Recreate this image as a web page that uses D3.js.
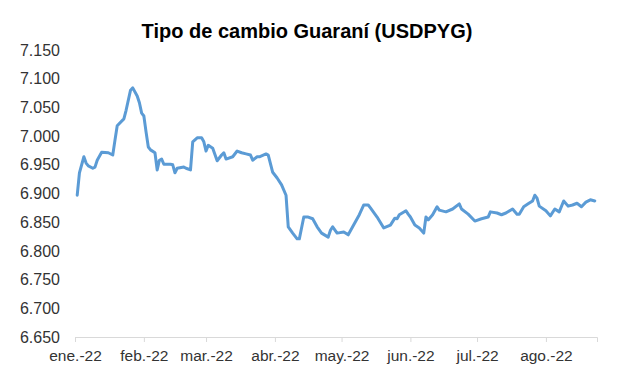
<!DOCTYPE html>
<html>
<head>
<meta charset="utf-8">
<script src="https://cdn.jsdelivr.net/npm/d3@7"></script>
<style>
  body { margin: 0; background: #fff; }
  text { font-family: "Liberation Sans", Arial, sans-serif; fill: #262626; }
</style>
</head>
<body>
<svg id="chart" width="617" height="389"></svg>
<script>
// USDPYG exchange rate, 2022
const dates = [
  '2022-01-02','2022-01-03','2022-01-05','2022-01-06','2022-01-07','2022-01-09','2022-01-10','2022-01-11',
  '2022-01-13','2022-01-16','2022-01-18','2022-01-19','2022-01-20','2022-01-23','2022-01-24','2022-01-26',
  '2022-01-27','2022-01-29','2022-01-30','2022-01-31','2022-02-01','2022-02-02','2022-02-03','2022-02-04',
  '2022-02-06','2022-02-07','2022-02-08','2022-02-09','2022-02-10','2022-02-13','2022-02-14','2022-02-15',
  '2022-02-16','2022-02-19','2022-02-20','2022-02-22','2022-02-23','2022-02-25','2022-02-27','2022-02-28',
  '2022-03-01','2022-03-02','2022-03-04','2022-03-06','2022-03-08','2022-03-09','2022-03-10','2022-03-13',
  '2022-03-15','2022-03-17','2022-03-19','2022-03-21','2022-03-22','2022-03-24','2022-03-25','2022-03-28',
  '2022-03-29','2022-03-31','2022-04-02','2022-04-04','2022-04-06','2022-04-07','2022-04-09','2022-04-11',
  '2022-04-12','2022-04-14','2022-04-16','2022-04-18','2022-04-20','2022-04-22','2022-04-25','2022-04-26',
  '2022-04-27','2022-04-29','2022-05-02','2022-05-04','2022-05-06','2022-05-09','2022-05-11','2022-05-13',
  '2022-05-14','2022-05-17','2022-05-20','2022-05-23','2022-05-25','2022-05-26','2022-05-27','2022-05-30',
  '2022-05-31','2022-06-01','2022-06-03','2022-06-05','2022-06-07','2022-06-08','2022-06-09','2022-06-11',
  '2022-06-13','2022-06-14','2022-06-17','2022-06-20','2022-06-23','2022-06-24','2022-06-27','2022-06-30',
  '2022-07-03','2022-07-06','2022-07-07','2022-07-10','2022-07-12','2022-07-14','2022-07-17','2022-07-19',
  '2022-07-20','2022-07-22','2022-07-24','2022-07-26','2022-07-27','2022-07-28','2022-07-29','2022-08-01',
  '2022-08-03','2022-08-05','2022-08-07','2022-08-09','2022-08-11','2022-08-13','2022-08-15','2022-08-17',
  '2022-08-19','2022-08-21','2022-08-23'
];
const rates = [
  6897, 6936, 6964, 6953, 6948, 6944, 6946, 6958,
  6972, 6971, 6967, 6993, 7018, 7030, 7045, 7080,
  7084, 7070, 7058, 7040, 7035, 7007, 6981, 6976,
  6971, 6941, 6958, 6960, 6951, 6951, 6950, 6936,
  6944, 6946, 6944, 6941, 6990, 6997, 6997, 6990,
  6974, 6984, 6979, 6957, 6967, 6971, 6960, 6964,
  6974, 6971, 6969, 6967, 6958, 6964, 6964, 6969,
  6967, 6937, 6927, 6915, 6897, 6842, 6831, 6821,
  6821, 6859, 6859, 6856, 6842, 6831, 6824, 6836,
  6842, 6831, 6833, 6828, 6842, 6863, 6880, 6880,
  6875, 6859, 6840, 6845, 6857, 6856, 6863, 6870,
  6864, 6859, 6845, 6840, 6831, 6859, 6854, 6863,
  6877, 6871, 6868, 6873, 6882, 6873, 6864, 6852,
  6856, 6859, 6868, 6866, 6863, 6866, 6873, 6864,
  6864, 6877, 6882, 6887, 6897, 6892, 6878, 6870,
  6861, 6873, 6868, 6887, 6878, 6880, 6883, 6877,
  6885, 6889, 6887
];
const monthTicks = ['2022-01-01','2022-02-01','2022-03-01','2022-04-01','2022-05-01','2022-06-01','2022-07-01','2022-08-01'];
const monthLabels = ['ene.-22','feb.-22','mar.-22','abr.-22','may.-22','jun.-22','jul.-22','ago.-22'];
const yTicks = [6650, 6700, 6750, 6800, 6850, 6900, 6950, 7000, 7050, 7100, 7150];

const parse = d3.timeParse('%Y-%m-%d');
const series = dates.map((d, i) => ({ date: parse(d), value: rates[i] }));
const es = d3.formatLocale({ decimal: ',', thousands: '.', grouping: [3], currency: ['', ''] });
const fmt = es.format(',.0f');

const margin = { left: 75, right: 20, top: 50, bottom: 52 };
const width = 617, height = 389;
const labelFont = '"Liberation Sans", Arial, sans-serif';

const svg = d3.select('#chart');

const x = d3.scaleTime()
    .domain([parse('2022-01-01'), parse('2022-08-24')])
    .range([margin.left, width - margin.right]);
const y = d3.scaleLinear()
    .domain([6650, 7150])
    .range([height - margin.bottom, margin.top]);

svg.append('text')
    .attr('x', 307)
    .attr('y', 38)
    .attr('text-anchor', 'middle')
    .style('font-size', '20px')
    .style('font-weight', 'bold')
    .style('fill', '#000')
    .text('Tipo de cambio Guaraní (USDPYG)');

// y labels only, Excel hides the value axis line
const yAxis = svg.append('g')
    .attr('transform', `translate(${margin.left},0)`)
    .call(d3.axisLeft(y).tickValues(yTicks).tickFormat(fmt).tickSize(0).tickPadding(15));
yAxis.select('.domain').remove();
yAxis.selectAll('text').style('font-size', '16px').style('font-family', labelFont).style('fill', '#333');

const xAxis = svg.append('g')
    .attr('transform', `translate(0,${y(6650)})`)
    .call(d3.axisBottom(x).tickValues(monthTicks.map(parse)).tickFormat((d, i) => monthLabels[i]).tickSizeOuter(0).tickSize(5).tickPadding(8));
xAxis.select('.domain').attr('stroke', '#d9d9d9');
xAxis.selectAll('.tick line').attr('stroke', '#d9d9d9');
xAxis.selectAll('text').style('font-size', '15.5px').style('font-family', labelFont).style('fill', '#333');

svg.append('path')
    .datum(series)
    .attr('fill', 'none')
    .attr('stroke', '#5b9bd5')
    .attr('stroke-width', 3)
    .attr('stroke-linejoin', 'round')
    .attr('stroke-linecap', 'round')
    .attr('d', d3.line().x(d => x(d.date)).y(d => y(d.value)));
</script>
</body>
</html>
